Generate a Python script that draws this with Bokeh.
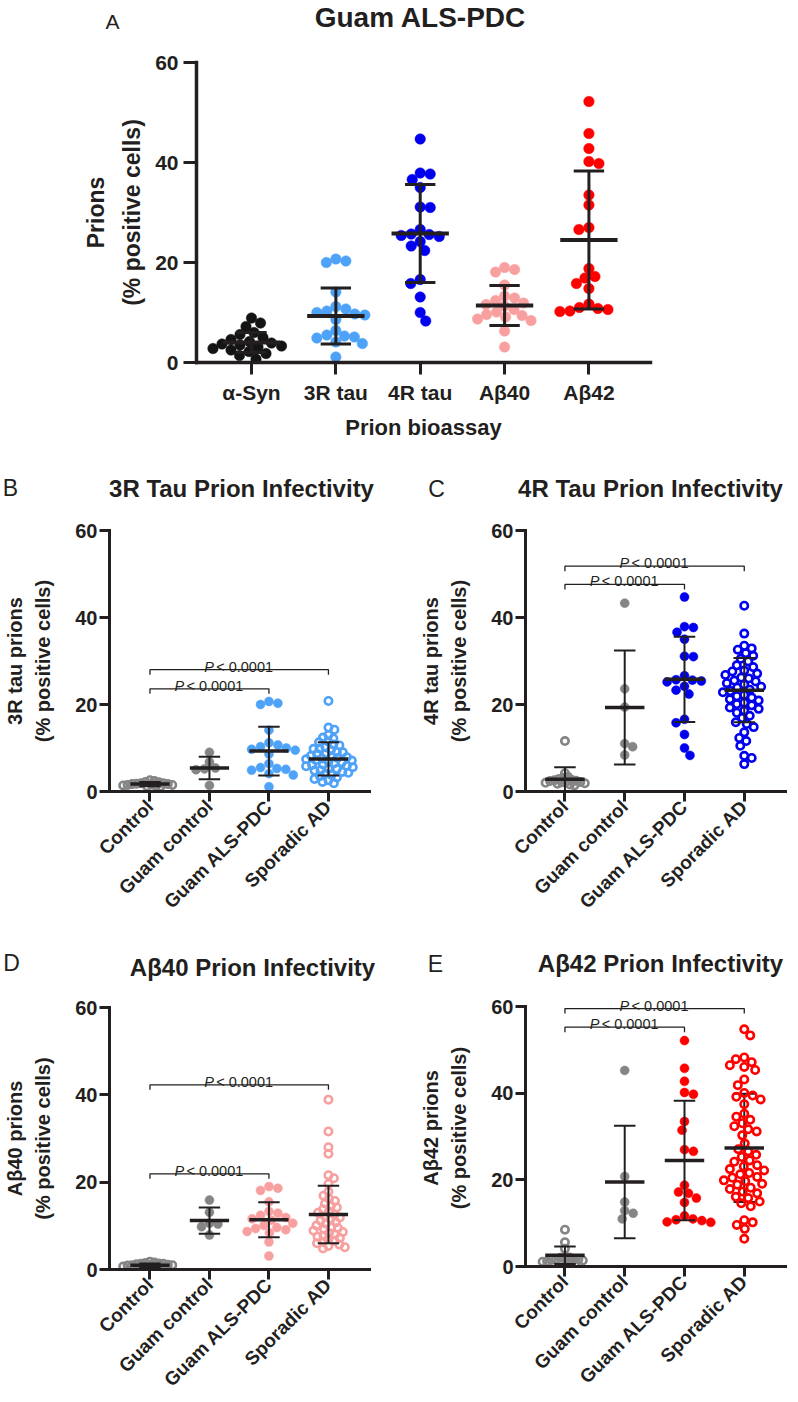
import math
from bokeh.plotting import figure
from bokeh.models import Range1d, FixedTicker
from bokeh.layouts import column, row
from bokeh.embed import file_html
from bokeh.resources import INLINE
from bokeh.core.properties import value

FONT = "Liberation Sans"
INK = "#231f20"

# ---------------- data ----------------
# Panel A: Guam ALS-PDC cases in five prion bioassays
a_categories = ["α-Syn", "3R tau", "4R tau", "Aβ40", "Aβ42"]
asyn_als = [8.9, 7.9, 7.2, 6.0, 5.6, 5.0, 4.6, 4.2, 3.9, 3.7, 3.5, 3.3, 3.1, 2.8, 2.5, 2.2, 1.8, 1.4, 0.7]
tau3_als = [20.7, 20.3, 20.0, 14.1, 11.2, 10.7, 10.3, 10.0, 9.7, 9.5, 8.6, 6.4, 5.5, 5.3, 5.1, 4.9, 4.1, 3.8, 1.1]
tau4_als = [44.7, 37.9, 37.7, 36.6, 35.0, 31.1, 31.0, 26.6, 25.7, 25.6, 25.4, 25.2, 24.2,
            23.3, 22.4, 16.6, 15.8, 13.1, 10.0, 8.3]
ab40_als = [19.0, 18.6, 18.1, 15.5, 13.3, 12.9, 12.4, 11.9, 11.6, 11.3, 10.6, 10.1, 9.6, 9.4,
            9.1, 8.7, 8.4, 6.3, 3.1]
ab42_als = [52.2, 45.8, 42.8, 40.2, 39.8, 33.5, 31.5, 27.0, 26.6, 18.8, 17.2, 16.9, 15.8, 14.8,
            11.7, 11.0, 10.8, 10.6, 10.3, 10.2]
a_means = [4.0, 9.3, 25.8, 11.4, 24.5]
a_sds = [2.0, 5.6, 9.8, 4.0, 13.8]

# Panels B-E: four cohorts per bioassay
groups = ["Control", "Guam control", "Guam ALS-PDC", "Sporadic AD"]

tau3_control = [2.6, 2.4, 2.2, 2.1, 1.9, 1.9, 1.8, 1.7, 1.7, 1.6, 1.5, 1.5, 1.4, 1.3, 1.2, 1.1]
tau3_guam_control = [9.0, 6.8, 5.4, 5.2, 5.0, 1.4]
tau3_sporadic = [20.8, 14.7, 14.2, 13.0, 12.4, 12.2, 11.5, 11.3, 10.8, 10.6, 10.2, 9.9, 9.8, 9.5,
                 9.1, 9.0, 8.7, 8.6, 8.2, 8.1, 7.9, 7.7, 7.6, 7.4, 7.2, 7.1, 6.8, 6.7, 6.5, 6.2,
                 6.1, 5.9, 5.8, 5.6, 5.3, 5.2, 4.9, 4.8, 4.5, 4.3, 4.1, 3.8, 3.5, 3.2, 2.9, 2.6,
                 2.2, 1.9]
tau3_means = [1.7, 5.4, 9.3, 7.5]
tau3_sds = [0.5, 2.6, 5.6, 3.8]

tau4_control = [11.6, 4.2, 3.4, 3.1, 2.9, 2.7, 2.6, 2.5, 2.4, 2.3, 2.2, 2.1, 2.0, 1.9, 1.8, 1.6, 1.4]
tau4_guam_control = [43.3, 23.6, 19.4, 11.0, 10.3, 8.4]
tau4_sporadic = [42.7, 36.3, 33.5, 32.9, 32.6, 31.8, 31.2, 30.5, 29.9, 29.0, 28.6, 27.8, 27.6,
                 27.1, 26.8, 26.2, 26.0, 25.5, 25.3, 24.9, 24.6, 24.1, 23.9, 23.4, 23.1, 22.8,
                 22.2, 21.9, 21.6, 21.2, 20.9, 20.4, 20.1, 19.8, 19.3, 19.0, 18.6, 18.1, 17.4,
                 16.9, 15.9, 15.5, 14.8, 13.6, 12.3, 11.6, 10.5, 8.2, 7.7, 6.3]
tau4_means = [2.8, 19.3, 25.8, 23.3]
tau4_sds = [2.8, 13.1, 9.8, 7.4]

ab40_control = [1.8, 1.6, 1.5, 1.4, 1.3, 1.3, 1.2, 1.1, 1.0, 1.0, 0.9, 0.8, 0.7, 0.6, 0.4, 0.2]
ab40_guam_control = [15.9, 13.1, 10.6, 10.4, 9.8, 7.9]
ab40_sporadic = [38.9, 31.6, 28.0, 26.5, 21.6, 20.9, 19.6, 17.8, 16.9, 16.2, 15.7, 15.1, 14.6,
                 14.2, 13.8, 13.3, 13.0, 12.6, 12.2, 11.9, 11.5, 11.2, 10.8, 10.5, 10.1, 9.8,
                 9.5, 9.2, 8.9, 8.6, 8.3, 8.0, 7.7, 7.5, 7.2, 6.9, 6.6, 6.3, 6.0, 5.7, 5.4, 5.1, 4.8]
ab40_means = [1.0, 11.2, 11.4, 12.6]
ab40_sds = [0.4, 3.0, 4.0, 6.6]

ab42_control = [8.5, 5.6, 4.1, 2.3, 2.1, 2.0, 1.8, 1.7, 1.6, 1.5, 1.4, 1.3, 1.2, 1.1, 1.0, 0.9, 0.8]
ab42_guam_control = [45.3, 20.8, 14.9, 12.9, 12.3, 11.0]
ab42_sporadic = [54.8, 53.4, 48.3, 47.9, 47.2, 46.5, 46.1, 45.4, 43.2, 41.9, 40.1, 39.5, 39.2,
                 38.6, 37.5, 35.3, 34.6, 33.9, 33.1, 32.4, 31.7, 31.2, 30.3, 28.4, 27.1, 26.6,
                 25.8, 25.3, 24.5, 24.2, 23.4, 23.1, 22.5, 22.2, 21.6, 21.3, 20.7, 20.5, 19.9,
                 19.7, 19.1, 18.9, 18.2, 17.9, 17.3, 16.9, 16.1, 15.8, 15.0, 14.6, 13.9, 10.7,
                 10.2, 9.6, 8.7, 6.4]
ab42_means = [2.6, 19.5, 24.5, 27.4]
ab42_sds = [2.0, 13.0, 13.8, 12.5]

p_label = "< 0.0001"

# ---------------- styling ----------------
C_BLACK = "#141414"
C_GRAY = "#858585"
C_LBLUE = "#4ea2f7"
C_BLUE = "#0000ee"
C_PINK = "#f8a0a0"
C_RED = "#ff0000"


def swarm_offsets(vals, ppu, ppc, gap):
    order = sorted(range(len(vals)), key=lambda i: -vals[i])
    placed = []
    offs = [0.0] * len(vals)
    flip = 1
    for i in order:
        y = vals[i] * ppu
        k = 0
        found = None
        while found is None:
            cands = [0.0] if k == 0 else [flip * k * 0.5, -flip * k * 0.5]
            for x in cands:
                if all((x - px) ** 2 + (y - py) ** 2 >= gap * gap for px, py in placed):
                    found = x
                    break
            k += 1
        if found != 0:
            flip = -flip
        placed.append((found, y))
        offs[i] = found / ppc
    return offs


def make_fig(width, height, xr, yr, left, top, fw, fh):
    p = figure(width=width, height=height, x_range=Range1d(*xr), y_range=Range1d(*yr),
               output_backend="svg", toolbar_location=None, frame_align=False,
               min_border_left=left, min_border_right=width - left - fw,
               min_border_top=top, min_border_bottom=height - top - fh)
    p.outline_line_color = None
    p.xgrid.visible = False
    p.ygrid.visible = False
    p.background_fill_color = "white"
    p.border_fill_color = "white"
    return p


def header(width, height, items):
    """Strip holding the panel letter and the panel title (positions in strip pixels)."""
    h = figure(width=width, height=height, x_range=Range1d(0, width), y_range=Range1d(height, 0),
               output_backend="svg", toolbar_location=None, min_border=0, frame_align=False,
               x_axis_location=None, y_axis_location=None)
    h.outline_line_color = None
    h.grid.visible = False
    h.border_fill_color = "white"
    for px, py, text, size, style in items:
        h.text(x=[px], y=[py], text=[text], text_font=value(FONT), text_font_size=size,
               text_font_style=style, text_color=INK, text_align="center", text_baseline="middle")
    return h


def style_axes(p, n, names, tick_px, ylab, ylab_px, ylab_lh, ylab_stand, axis_w, tick_out_y,
               tick_out_x, rotate, xlab=None):
    xa = p.xaxis[0]
    ya = p.yaxis[0]
    for ax in (xa, ya):
        ax.axis_line_width = axis_w
        ax.axis_line_color = INK
        ax.axis_line_cap = "square"
        ax.major_tick_line_width = 3
        ax.major_tick_line_color = INK
        ax.major_tick_in = 0
        ax.minor_tick_line_color = None
        ax.major_label_text_font = FONT
        ax.major_label_text_font_style = "bold"
        ax.major_label_text_color = INK
    xa.ticker = FixedTicker(ticks=list(range(n)))
    xa.major_label_overrides = {i: names[i] for i in range(n)}
    xa.major_tick_out = tick_out_x
    ya.ticker = FixedTicker(ticks=[0, 20, 40, 60])
    ya.bounds = (0, 60)
    ya.major_tick_out = tick_out_y
    ya.major_label_text_font_size = tick_px
    ya.major_label_standoff = 2
    ya.axis_label = ylab
    ya.axis_label_text_font = FONT
    ya.axis_label_text_font_style = "bold"
    ya.axis_label_text_font_size = ylab_px
    ya.axis_label_text_line_height = ylab_lh
    ya.axis_label_text_color = INK
    ya.axis_label_standoff = ylab_stand
    if rotate:
        xa.major_label_orientation = math.pi / 4
        xa.major_label_text_font_size = "19px"
        xa.major_label_standoff = 2
    else:
        xa.major_label_text_font_size = tick_px
        xa.major_label_standoff = 6
    if xlab:
        xa.axis_label = xlab
        xa.axis_label_text_font = FONT
        xa.axis_label_text_font_style = "bold"
        xa.axis_label_text_font_size = "22px"
        xa.axis_label_text_color = INK
        xa.axis_label_standoff = 8


def draw_dots(p, xc, vals, color, filled, size, gap, ppu, ppc):
    offs = swarm_offsets(vals, ppu, ppc, gap)
    xs = [xc + o for o in offs]
    if filled:
        p.scatter(xs, vals, marker="circle", size=size, fill_color=color, line_color=color,
                  line_width=0.5)
    else:
        p.scatter(xs, vals, marker="circle", size=size - 2.6, fill_color=None, line_color=color,
                  line_width=2.6)


def draw_sd(p, idx, means, sds, cap_hw, w):
    xs = list(idx)
    lo = [means[i] - sds[i] for i in idx]
    hi = [means[i] + sds[i] for i in idx]
    p.segment(x0=xs, y0=lo, x1=xs, y1=hi, line_color=INK, line_width=w)
    for ys in (lo, hi):
        p.segment(x0=[x - cap_hw for x in xs], y0=ys, x1=[x + cap_hw for x in xs], y1=ys,
                  line_color=INK, line_width=w)


def draw_means(p, means, mean_hw, w):
    xs = list(range(len(means)))
    p.segment(x0=[x - mean_hw for x in xs], y0=means, x1=[x + mean_hw for x in xs], y1=means,
              line_color=INK, line_width=w)


def draw_brackets(p, brackets, drop):
    xs, ys, cx, cy = [], [], [], []
    for a, b, h in brackets:
        xs.append([a, a, b, b])
        ys.append([h - drop, h, h, h - drop])
        cx.append((a + b) / 2)
        cy.append(h)
    p.multi_line(xs, ys, line_color=INK, line_width=1.3)
    p.text(x=cx, y=cy, text=["P"] * len(cx), text_font=value(FONT), text_font_style="italic",
           text_font_size="14.5px", text_align="left", text_baseline="alphabetic",
           x_offset=-35, y_offset=-3, text_color=INK)
    p.text(x=cx, y=cy, text=[p_label] * len(cx), text_font=value(FONT),
           text_font_size="14.5px", text_align="left", text_baseline="alphabetic",
           x_offset=-23, y_offset=-3, text_color=INK)


# ---------------- Panel A ----------------
hA = header(796, 48, [(112, 21, "A", "21px", "normal"), (420, 17, "Guam ALS-PDC", "28px", "bold")])

A_W, A_H, A_L, A_T, A_FW, A_FH = 796, 398, 196, 14, 454, 300
a_xr = (-0.652, 4.73)
pA = make_fig(A_W, A_H, a_xr, (0, 60), A_L, A_T, A_FW, A_FH)
style_axes(pA, 5, a_categories, "21px", "Prions\n(% positive cells)", "23px", 1.4, 7, 3.5, 13, 12,
           False, xlab="Prion bioassay")
pA.yaxis[0].major_label_standoff = 5
a_ppu = A_FH / 60.0
a_ppc = A_FW / (a_xr[1] - a_xr[0])
for i, (vals, col) in enumerate([(asyn_als, C_BLACK), (tau3_als, C_LBLUE), (tau4_als, C_BLUE),
                                 (ab40_als, C_PINK), (ab42_als, C_RED)]):
    draw_dots(pA, i, vals, col, True, 10.5, 10.0, a_ppu, a_ppc)
draw_sd(pA, range(5), a_means, a_sds, 0.18, 3)
draw_means(pA, a_means, 0.34, 4)


# ---------------- Panels B-E ----------------
def cohort_panel(width, height, left, top, fw, fh, xr, ytop, data, means, sds, color,
                 ylab, brackets, sd_under, sporadic_gap):
    p = make_fig(width, height, xr, (0, ytop), left, top, fw, fh)
    style_axes(p, 4, groups, "20px", ylab, "20px", 1.3, 18, 3, 10, 10, True)
    ppu = fh / float(ytop)
    ppc = fw / (xr[1] - xr[0])
    under = [3] if sd_under else []
    over = [i for i in range(4) if i not in under]
    if under:
        draw_sd(p, under, means, sds, 0.18, 2)
    control, guam_control, als, sporadic = data
    draw_dots(p, 0, control, C_GRAY, False, 10.0, 4.5, ppu, ppc)
    draw_dots(p, 1, guam_control, C_GRAY, True, 9.0, 8.5, ppu, ppc)
    draw_dots(p, 2, als, color, True, 9.0, 9.0, ppu, ppc)
    draw_dots(p, 3, sporadic, color, False, 10.0, sporadic_gap, ppu, ppc)
    draw_sd(p, over, means, sds, 0.18, 2)
    draw_means(p, means, 0.33, 3.5)
    draw_brackets(p, brackets, 5.0 / ppu)
    return p

hB = header(416, 64, [(10, 41, "B", "23px", "normal"), (241, 42, "3R Tau Prion Infectivity", "24px", "bold")])
hC = header(380, 64, [(20, 42, "C", "23px", "normal"), (234, 42, "4R Tau Prion Infectivity", "24px", "bold")])
hD = header(416, 59, [(11, 36, "D", "23px", "normal"), (252, 41, "Aβ40 Prion Infectivity", "24px", "bold")])
hE = header(380, 59, [(19, 37, "E", "23px", "normal"), (244, 37, "Aβ42 Prion Infectivity", "24px", "bold")])

pB = cohort_panel(416, 416, 107, 20, 262, 261, (-0.68, 3.69), 60,
                  (tau3_control, tau3_guam_control, tau3_als, tau3_sporadic), tau3_means, tau3_sds,
                  C_LBLUE, "3R tau prions\n(% positive cells)", [(0, 2, 23.6), (0, 3, 28.0)],
                  False, 6.0)
pC = cohort_panel(380, 416, 107, 20, 262, 261, (-0.66, 3.69), 60,
                  (tau4_control, tau4_guam_control, tau4_als, tau4_sporadic), tau4_means, tau4_sds,
                  C_BLUE, "4R tau prions\n(% positive cells)", [(0, 2, 47.6), (0, 3, 51.8)],
                  False, 7.5)
pD = cohort_panel(416, 415, 107, 22, 262, 262, (-0.68, 3.69), 60,
                  (ab40_control, ab40_guam_control, ab40_als, ab40_sporadic), ab40_means, ab40_sds,
                  C_PINK, "Aβ40 prions\n(% positive cells)", [(0, 2, 21.9), (0, 3, 42.3)],
                  False, 6.0)
pE = cohort_panel(380, 415, 107, 4, 262, 277, (-0.66, 3.69), 64,
                  (ab42_control, ab42_guam_control, ab42_als, ab42_sporadic), ab42_means, ab42_sds,
                  C_RED, "Aβ42 prions\n(% positive cells)", [(0, 2, 55.3), (0, 3, 59.6)],
                  True, 8.5)

layout = column(hA, pA, row(hB, hC), row(pB, pC), row(hD, hE), row(pD, pE))
open("out.html", "w").write(file_html(layout, INLINE))
